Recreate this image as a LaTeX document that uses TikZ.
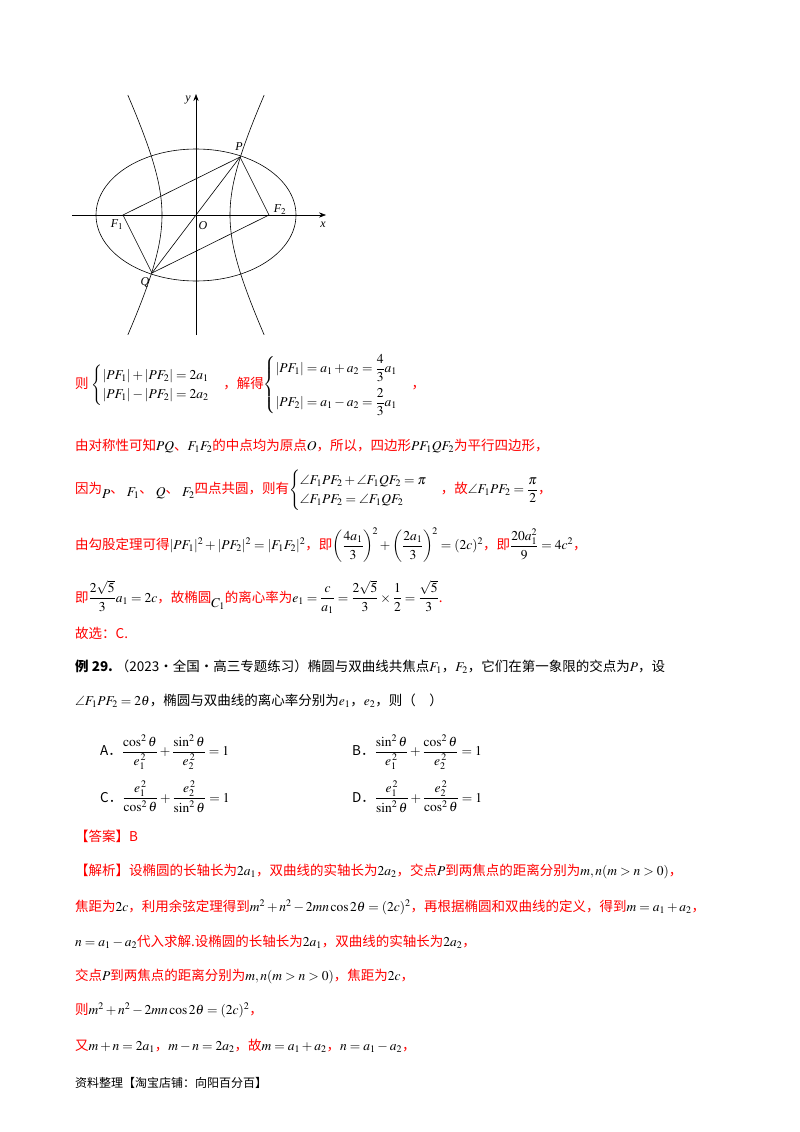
\documentclass[tikz,border=0pt]{standalone}
\usepackage{amsmath,amssymb}
\usepackage{mathptmx}
\usepackage[no-math]{fontspec}
\usetikzlibrary{arrows.meta}
\setmainfont{Liberation Serif}
\newfontfamily\cjk{Noto Sans CJK SC}
\newcommand\rd[1]{\textcolor{red}{#1}}
\begin{document}
\begin{tikzpicture}[x=1pt,y=-1pt,
  txt/.style={anchor=west,inner sep=0pt,font=\cjk\fontsize{13.5}{16}\selectfont},
  lbl/.style={inner sep=1pt,font=\itshape\fontsize{12}{13}\selectfont},
  curve/.style={line width=0.6pt}]
\useasboundingbox[fill=white] (0,0) rectangle (800,1132);
% figure
\coordinate (O) at (196,215);
\coordinate (F1) at (123,215);
\coordinate (F2) at (269,215);
\coordinate (P) at (240,157);
\coordinate (Q) at (152,273);
\draw[curve,-{Stealth[length=7pt]}] (72,215) -- (326,215);
\draw[curve,-{Stealth[length=7pt]}] (196,335) -- (196,94);
\draw[curve] (O) ellipse [x radius=100, y radius=66];
\draw[curve,domain=-1.32:1.32,samples=60] plot ({196+34*cosh(\x)},{215+69*sinh(\x)});
\draw[curve,domain=-1.32:1.32,samples=60] plot ({196-34*cosh(\x)},{215+69*sinh(\x)});
\draw[curve] (F1) -- (P) -- (F2) -- (Q) -- cycle;
\draw[curve] (P) -- (Q);
\node[lbl] at (188,100) {y};
\node[lbl] at (323,225) {x};
\node[lbl] at (239,147) {P};
\node[lbl] at (145,282) {Q};
\node[lbl] at (203,226) {O};
\node[lbl] at (117,225) {F$_1$};
\node[lbl] at (280,210) {F$_2$};
% text
\node[txt] (l1) at (75,385) {\rd{则} $\begin{cases}|PF_1|+|PF_2|=2a_1\\ |PF_1|-|PF_2|=2a_2\end{cases}$\rd{，解得}$\begin{cases}|PF_1|=a_1+a_2=\dfrac43a_1\\[10pt] |PF_2|=a_1-a_2=\dfrac23a_1\end{cases}$\rd{，}};
\node[txt] (l2) at (75,446) {\rd{由对称性可知}$PQ$\rd{、}$F_1F_2$\rd{的中点均为原点}$O$\rd{，所以，四边形}$PF_1QF_2$\rd{为平行四边形，}};
\node[txt] (l3) at (75,490) {\rd{因为}\raisebox{-5pt}{$P$}\rd{、 }\raisebox{-3pt}{$F_1$}\rd{、 }\raisebox{-3pt}{$Q$}\rd{、 }\raisebox{-3pt}{$F_2$}\rd{四点共圆，则有}$\begin{cases}\angle F_1PF_2+\angle F_1QF_2=\pi\\ \angle F_1PF_2=\angle F_1QF_2\end{cases}$\rd{，故}$\angle F_1PF_2=\dfrac{\pi}{2}$\rd{，}};
\node[txt] (l4) at (75,545) {\rd{由勾股定理可得}$|PF_1|^2+|PF_2|^2=|F_1F_2|^2$\rd{，即}$\left(\dfrac{4a_1}{3}\right)^{\!2}+\left(\dfrac{2a_1}{3}\right)^{\!2}=(2c)^2$\rd{，即}$\dfrac{20a_1^2}{9}=4c^2$\rd{，}};
\node[txt] (l5) at (75,597) {\rd{即}$\dfrac{2\sqrt5}{3}a_1=2c$\rd{，故椭圆}\raisebox{-5pt}{$C_1$}\rd{的离心率为}$e_1=\dfrac{c}{a_1}=\dfrac{2\sqrt5}{3}\times\dfrac12=\dfrac{\sqrt5}{3}$\rd{.}};
\node[txt] (l6) at (75,633) {\rd{故选：C.}};
\node[txt] (l7) at (75,667) {\textbf{例 29.}\ （2023·全国·高三专题练习）椭圆与双曲线共焦点$F_1$，$F_2$，它们在第一象限的交点为$P$，设};
\node[txt] (l8) at (75,701) {$\angle F_1PF_2=2\theta$，椭圆与双曲线的离心率分别为$e_1$，$e_2$，则（\quad ）};
\node[txt] (oa) at (100,752) {A．$\dfrac{\cos^2\theta}{e_1^{\,2}}+\dfrac{\sin^2\theta}{e_2^{\,2}}=1$};
\node[txt] (ob) at (352,752) {B．$\dfrac{\sin^2\theta}{e_1^{\,2}}+\dfrac{\cos^2\theta}{e_2^{\,2}}=1$};
\node[txt] (oc) at (100,797) {C．$\dfrac{e_1^{\,2}}{\cos^2\theta}+\dfrac{e_2^{\,2}}{\sin^2\theta}=1$};
\node[txt] (od) at (352,797) {D．$\dfrac{e_1^{\,2}}{\sin^2\theta}+\dfrac{e_2^{\,2}}{\cos^2\theta}=1$};
\node[txt] (l9) at (75,836) {\rd{【答案】B}};
\node[txt] (l10) at (75,871) {\rd{【解析】设椭圆的长轴长为}$2a_1$\rd{，双曲线的实轴长为}$2a_2$\rd{，交点}$P$\rd{到两焦点的距离分别为}$m,n(m>n>0)$\rd{，}};
\node[txt] (l11) at (75,907) {\rd{焦距为}$2c$\rd{，利用余弦定理得到}$m^2+n^2-2mn\cos2\theta=(2c)^2$\rd{，再根据椭圆和双曲线的定义，得到}$m=a_1+a_2$\rd{，}};
\node[txt] (l12) at (75,942) {$n=a_1-a_2$\rd{代入求解.设椭圆的长轴长为}$2a_1$\rd{，双曲线的实轴长为}$2a_2$\rd{，}};
\node[txt] (l13) at (75,976) {\rd{交点}$P$\rd{到两焦点的距离分别为}$m,n(m>n>0)$\rd{，焦距为}$2c$\rd{，}};
\node[txt] (l14) at (75,1010) {\rd{则}$m^2+n^2-2mn\cos2\theta=(2c)^2$\rd{，}};
\node[txt] (l15) at (75,1046) {\rd{又}$m+n=2a_1$\rd{，}$m-n=2a_2$\rd{，故}$m=a_1+a_2$\rd{，}$n=a_1-a_2$\rd{，}};
\node[txt,font=\cjk\fontsize{12}{14}\selectfont] (l16) at (75,1083) {资料整理【淘宝店铺：向阳百分百】};
\end{tikzpicture}
\end{document}
